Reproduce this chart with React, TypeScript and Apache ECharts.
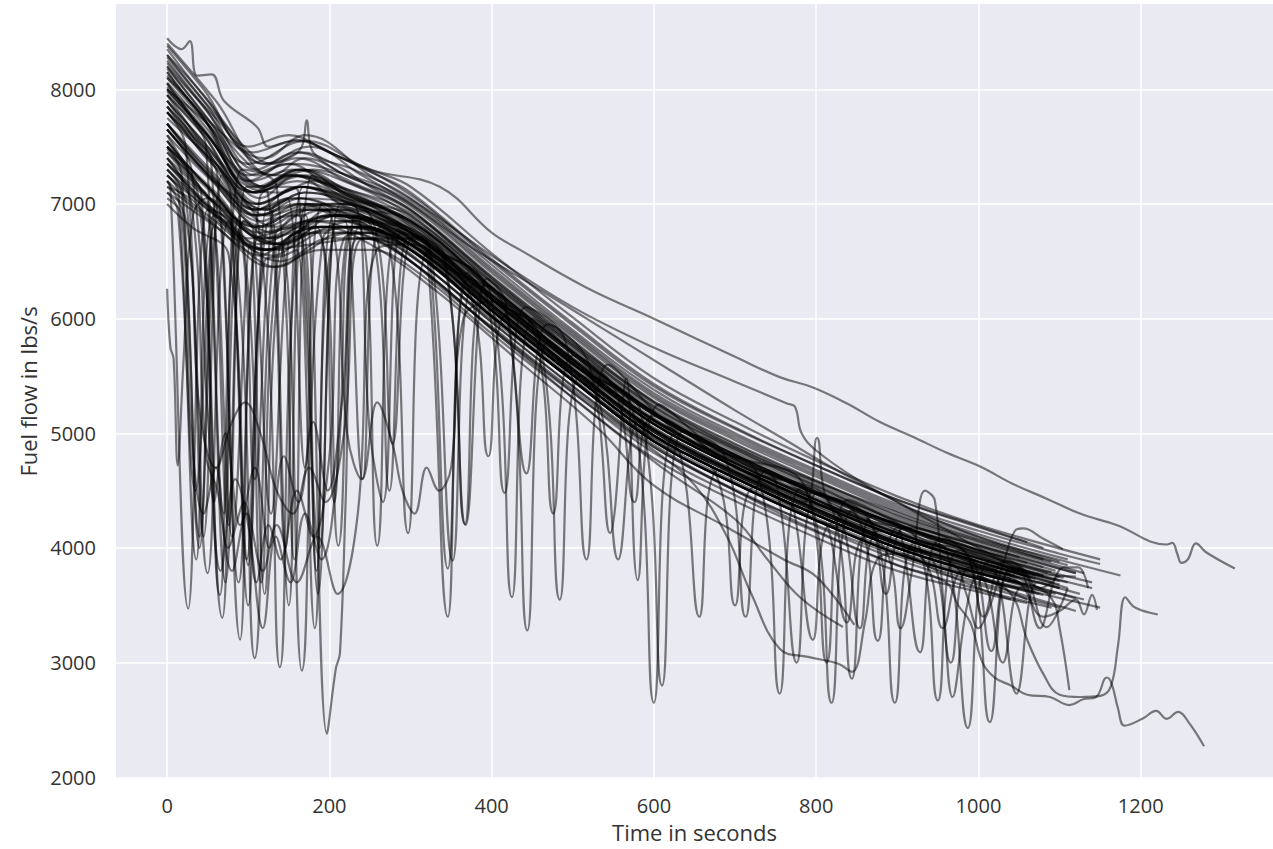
import React, { useEffect, useRef } from "react";
import * as echarts from "echarts";

type P = [number, number][];

const xTicks = [0, 200, 400, 600, 800, 1000, 1200];
const yTicks = [2000, 3000, 4000, 5000, 6000, 7000, 8000];

// upper band flights
const f01: P = [[0,8445],[18,8350],[28,8420],[37,8120],[55,8130],[70,7900],[111,7670],[125,7500],[160,7560],[200,7450],[260,7250],[300,7100],[400,6520],[500,5960],[600,5430],[700,5050],[800,4720],[900,4420],[1000,4180],[1060,4050]];
const f02: P = [[0,8400],[60,7900],[120,7350],[150,7400],[166,7500],[172,7730],[180,7450],[230,7300],[300,7050],[400,6470],[500,5900],[600,5380],[700,5000],[800,4680],[900,4380],[1000,4150],[1100,3950],[1150,3860]];
const f03: P = [[0,8300],[50,7850],[110,7300],[160,7450],[220,7250],[300,7000],[400,6420],[500,5860],[600,5330],[700,4960],[800,4640],[900,4340],[1000,4100],[1100,3880]];
const f04: P = [[0,8250],[40,7900],[100,7350],[140,7250],[180,7300],[240,7150],[300,6950],[400,6370],[500,5810],[600,5280],[700,4910],[800,4590],[900,4290],[1000,4060],[1090,3880]];
const f05: P = [[0,8200],[60,7650],[120,7150],[160,7300],[200,7250],[300,6900],[400,6320],[500,5760],[600,5230],[700,4860],[800,4540],[900,4240],[1000,4020],[1050,3920]];
const f06: P = [[0,8150],[50,7700],[100,7250],[150,7350],[200,7150],[300,6850],[400,6270],[500,5710],[600,5180],[700,4810],[800,4490],[900,4200],[1000,3980],[1030,3920]];
const f07: P = [[0,8100],[40,7800],[110,7100],[170,7250],[230,7050],[300,6800],[400,6220],[500,5660],[600,5130],[700,4760],[800,4440],[900,4150],[1000,3930],[1080,3760]];
const f08: P = [[0,8050],[60,7500],[115,7050],[160,7250],[220,7050],[300,6750],[400,6170],[500,5610],[600,5080],[700,4710],[800,4390],[900,4100],[1000,3880],[1070,3730]];
const f09: P = [[0,8000],[50,7600],[100,7200],[150,7350],[200,7300],[300,7020],[400,6440],[500,5880],[600,5350],[700,4980],[800,4660],[900,4360],[1000,4120],[1110,3900]];
const f10: P = [[0,7950],[40,7650],[105,7100],[150,7250],[210,7150],[300,6920],[400,6340],[500,5780],[600,5250],[700,4880],[800,4560],[900,4260],[1000,4030],[1120,3780]];
const f11: P = [[0,7900],[50,7500],[110,7000],[170,7150],[230,7000],[300,6780],[400,6200],[500,5640],[600,5110],[700,4740],[800,4420],[900,4130],[1000,3910],[1140,3650]];
const f12: P = [[0,7850],[60,7400],[120,6950],[170,7100],[240,6950],[300,6700],[400,6120],[500,5560],[600,5030],[700,4660],[800,4340],[900,4050],[1000,3840],[1100,3650]];
const f13: P = [[0,7800],[50,7450],[110,6950],[160,7150],[220,7050],[300,6860],[400,6280],[500,5720],[600,5190],[700,4820],[800,4500],[900,4210],[1000,3990],[1060,3870]];
const f14: P = [[0,7750],[60,7350],[125,6900],[180,7000],[240,6900],[300,6650],[400,6070],[500,5510],[600,4980],[700,4610],[800,4290],[900,4000],[1000,3790],[1130,3550]];
const f15: P = [[0,8350],[50,7900],[100,7500],[150,7600],[200,7450],[250,7300],[300,7150],[400,6570],[500,6010],[600,5480],[700,5100],[800,4760],[900,4450],[1000,4200],[1150,3900]];
const f16: P = [[0,8280],[70,7700],[130,7250],[170,7400],[220,7250],[300,6980],[400,6400],[500,5840],[600,5310],[700,4940],[800,4620],[900,4320],[1000,4080],[1070,3950],[1175,3760]];
const f17: P = [[0,8120],[45,7750],[105,7200],[155,7300],[215,7150],[300,6880],[400,6300],[500,5740],[600,5210],[700,4840],[800,4520],[900,4230],[1000,4010],[1095,3800]];
const f18: P = [[0,7980],[55,7550],[115,7000],[165,7150],[225,7000],[300,6720],[400,6140],[500,5580],[600,5050],[700,4680],[800,4360],[900,4070],[1000,3850],[1125,3600]];
const f19: P = [[0,8380],[45,8000],[105,7450],[160,7550],[215,7400],[300,7080],[400,6500],[500,5940],[600,5410],[700,5040],[800,4720],[900,4420],[1000,4190],[1080,4000]];
const f20: P = [[0,8180],[55,7700],[110,7150],[165,7300],[225,7100],[300,6830],[400,6250],[500,5690],[600,5160],[700,4790],[800,4470],[900,4180],[1000,3960],[1100,3750]];
const f21: P = [[0,7700],[50,7300],[115,6900],[165,7050],[225,6900],[300,6680],[400,6100],[500,5540],[600,5010],[700,4640],[800,4320],[900,4030],[1000,3810],[1040,3730]];
const f22: P = [[0,8230],[50,7800],[110,7250],[160,7400],[220,7200],[300,6940],[400,6360],[500,5800],[600,5270],[700,4900],[800,4580],[900,4280],[1000,4050],[1130,3780]];
const f23: P = [[0,8060],[50,7650],[110,7100],[160,7200],[220,7050],[300,6770],[400,6190],[500,5630],[600,5100],[700,4730],[800,4410],[900,4120],[1000,3900],[1060,3780]];
const f24: P = [[0,7600],[55,7200],[120,6800],[175,6950],[235,6850],[300,6600],[400,6020],[500,5460],[600,4930],[700,4560],[800,4240],[900,3950],[1000,3740],[1150,3480]];

// band flights with small wiggles
const r01: P = [[0,8020],[40,7700],[80,7350],[120,7150],[150,7250],[185,7200],[230,7050],[270,6950],[320,6700],[370,6420],[420,6120],[470,5850],[520,5580],[570,5320],[620,5080],[670,4900],[720,4700],[770,4560],[820,4420],[870,4280],[920,4150],[970,4020],[1020,3900],[1085,3780]];
const r02: P = [[0,7480],[40,7150],[90,6800],[130,6650],[170,6800],[210,6900],[250,6800],[290,6620],[340,6330],[390,6050],[440,5780],[490,5520],[540,5250],[590,5000],[640,4820],[690,4640],[740,4480],[790,4330],[840,4200],[890,4050],[940,3930],[990,3820],[1040,3700],[1095,3600]];
const r03: P = [[0,7900],[50,7500],[100,7150],[140,7100],[180,7200],[220,7100],[260,6950],[310,6720],[360,6450],[410,6150],[460,5870],[510,5600],[560,5350],[610,5120],[660,4920],[710,4740],[760,4600],[810,4450],[860,4310],[910,4180],[960,4050],[1010,3930],[1070,3820],[1140,3700]];
const r04: P = [[0,7650],[45,7300],[95,6950],[135,6800],[175,6950],[215,6950],[255,6850],[300,6650],[350,6350],[400,6080],[450,5800],[500,5530],[550,5280],[600,5040],[650,4850],[700,4670],[750,4520],[800,4370],[850,4230],[900,4100],[950,3980],[1000,3870],[1065,3740]];
const r05: P = [[0,8300],[45,7950],[95,7500],[130,7350],[165,7450],[205,7350],[250,7150],[300,6950],[350,6650],[400,6350],[450,6060],[500,5780],[550,5520],[600,5270],[650,5060],[700,4880],[750,4720],[800,4580],[850,4440],[900,4310],[950,4180],[1000,4070],[1080,3900]];
const r06: P = [[0,7150],[45,6900],[95,6600],[135,6450],[175,6600],[215,6750],[255,6700],[300,6500],[350,6200],[400,5930],[450,5650],[500,5380],[550,5120],[600,4880],[650,4680],[700,4500],[750,4340],[800,4200],[850,4060],[900,3930],[950,3810],[1000,3700],[1050,3600],[1120,3450]];

// lower-start band flights
const g01: P = [[0,7500],[50,7150],[120,6700],[170,6850],[220,6900],[300,6700],[400,6120],[500,5560],[600,5030],[700,4660],[800,4340],[900,4050],[1000,3830],[1050,3740]];
const g02: P = [[0,7400],[60,7000],[125,6600],[180,6750],[230,6850],[300,6650],[400,6070],[500,5510],[600,4980],[700,4610],[800,4290],[900,4000],[1000,3780],[1060,3680]];
const g03: P = [[0,7300],[50,6950],[130,6550],[190,6800],[240,6800],[300,6600],[400,6020],[500,5460],[600,4930],[700,4560],[800,4240],[900,3950],[1000,3730],[1080,3590]];
const g04: P = [[0,7250],[60,6900],[140,6500],[200,6700],[250,6700],[300,6550],[400,5970],[500,5410],[600,4880],[700,4510],[800,4190],[900,3900],[1000,3680],[1100,3480]];
const g05: P = [[0,7200],[50,6900],[120,6600],[180,6650],[240,6700],[300,6500],[400,5920],[500,5360],[600,4830],[700,4460],[800,4140],[900,3850],[1000,3640],[1090,3480]];
const g06: P = [[0,7100],[60,6800],[130,6450],[190,6600],[250,6600],[300,6450],[400,5870],[500,5310],[600,4780],[700,4410],[800,4090],[900,3800],[1010,3600],[1060,3520]];
const g07: P = [[0,7450],[40,7200],[110,6800],[160,6950],[210,7000],[300,6750],[400,6170],[500,5610],[600,5080],[700,4710],[800,4390],[900,4100],[1000,3880],[1110,3650]];
const g08: P = [[0,7350],[70,6950],[140,6650],[200,6950],[250,6850],[300,6620],[400,6040],[500,5480],[600,4950],[700,4580],[800,4260],[900,3970],[1000,3750],[1070,3620]];

// flights running below the band later on
const h01: P = [[0,7500],[60,7100],[120,6700],[190,6800],[250,6650],[330,6250],[430,5650],[530,5050],[599,4550],[690,4180],[760,3900],[800,3750],[847,3330]];
const h02: P = [[0,7800],[50,7400],[110,6950],[160,7050],[230,6850],[310,6450],[410,5850],[510,5250],[610,4700],[700,4250],[740,3900],[780,3570],[833,3310]];

// flights with sharp dips
const d01: P = [[0,6260],[4,5750],[8,5650],[13,4720],[20,5600],[32,6900],[50,7050],[90,6800],[130,6650],[200,6900],[260,6850],[300,6750],[326,6550],[352,3890],[378,6300],[420,6100],[500,5640],[600,5110],[700,4740],[800,4420],[900,4130],[1000,3910],[1050,3800]];
const d02: P = [[0,7200],[4,7150],[26,3470],[50,6950],[70,6900],[100,6700],[150,6800],[200,6900],[250,6850],[300,6750],[400,6170],[458,5850],[484,3550],[510,5500],[600,5080],[700,4710],[785,4400],[801,4960],[817,4370],[900,4100],[1000,3880],[1060,3750]];
const d03: P = [[0,7600],[30,7250],[42,7100],[68,3390],[94,6850],[130,6750],[160,6900],[171,6900],[197,2380],[208,2950],[213,3080],[220,4400],[232,6900],[270,6850],[300,6780],[400,6200],[500,5640],[600,5110],[687,4800],[713,3400],[739,4680],[800,4420],[900,4130],[1000,3910],[1090,3720]];
const d04: P = [[0,7400],[40,7050],[82,6750],[108,3040],[134,6750],[160,6800],[200,6900],[250,6850],[300,6720],[320,6600],[346,3400],[372,6350],[420,6050],[500,5600],[574,5200],[600,2650],[626,5000],[700,4700],[800,4380],[871,4180],[897,2650],[923,4050],[1000,3850],[1070,3700]];
const d05: P = [[0,7700],[50,7250],[113,6800],[139,2960],[165,6850],[210,6950],[280,6850],[341,6500],[367,4210],[393,6300],[460,5850],[560,5300],[650,4920],[729,4620],[755,2730],[781,4520],[860,4250],[924,4070],[950,2670],[976,3980],[1050,3800]];
const d06: P = [[0,7350],[60,6900],[115,6550],[140,6650],[166,2930],[192,6700],[230,6800],[271,6720],[297,4130],[323,6600],[400,6150],[510,5550],[584,5180],[610,2800],[636,5020],[700,4700],[793,4420],[819,2650],[845,4330],[930,4050],[961,3970],[987,2430],[1013,3880],[1060,3750]];
const d07: P = [[0,7900],[40,7500],[62,7250],[88,3700],[114,7050],[150,7150],[162,7100],[188,4000],[214,7000],[250,6950],[320,6650],[399,6200],[425,3570],[451,6000],[540,5450],[640,5000],[740,4650],[818,4380],[844,2860],[870,4280],[940,4050],[988,3920],[1014,2480],[1040,3830],[1080,3750]];
const d08: P = [[0,7250],[24,7000],[50,3780],[76,6850],[100,6650],[140,6600],[185,6750],[211,4020],[237,6800],[270,6750],[330,6500],[418,6050],[444,3280],[470,5800],[560,5300],[660,4880],[760,4550],[850,4280],[876,3190],[902,4180],[1000,3850],[1021,3800],[1047,2730],[1073,3700],[1100,3650]];
const d09: P = [[0,7500],[39,7050],[65,3590],[91,6900],[130,6700],[180,6850],[233,6850],[259,4020],[285,6780],[330,6600],[390,6300],[416,4480],[442,6100],[491,5800],[517,3900],[543,5600],[630,5000],[720,4700],[750,4580],[776,3000],[802,4480],[880,4250],[902,4180],[928,3090],[954,4080],[1040,3850],[1058,3780],[1084,3310],[1110,3650]];
const d10: P = [[0,7650],[60,7200],[110,6950],[150,7050],[252,6880],[278,4910],[304,6720],[342,6550],[368,4200],[394,6350],[417,6150],[443,4650],[469,5950],[520,5600],[546,4130],[566,5480],[580,3720],[606,5250],[680,4850],[787,4520],[813,3000],[839,4420],[920,4150],[1030,3850],[1110,3700]];

// flights with heavy early oscillation
const e01: P = [[0,7300],[18,7100],[40,4100],[62,6850],[68,6800],[90,3200],[112,6700],[140,6650],[210,6900],[300,6700],[400,6120],[500,5560],[600,5030],[700,4660],[800,4340],[900,4050],[1000,3830],[1045,3760]];
const e02: P = [[0,7100],[13,6950],[35,4500],[57,6800],[80,4100],[102,6650],[120,3600],[142,6600],[200,6800],[300,6650],[400,6070],[500,5510],[600,4980],[700,4610],[800,4290],[900,4000],[1000,3780],[1050,3700]];
const e03: P = [[0,7800],[23,7500],[45,4100],[67,7250],[78,7100],[100,3850],[122,6950],[128,6950],[150,3500],[172,7000],[240,6950],[300,6850],[400,6270],[500,5710],[600,5180],[700,4810],[800,4490],[900,4200],[1000,3980],[1080,3830]];
const e04: P = [[0,7050],[18,6900],[30,5000],[45,4300],[60,4700],[75,4000],[95,4400],[110,3700],[125,4200],[140,3900],[160,4500],[180,4100],[200,4800],[218,6700],[260,6750],[300,6650],[400,6070],[500,5510],[600,4980],[700,4610],[800,4290],[900,4000],[1000,3780],[1030,3730]];
const e05: P = [[0,7200],[25,6800],[40,5200],[60,4700],[80,5100],[96,5270],[115,5000],[135,4500],[155,4300],[175,4700],[195,4400],[218,5000],[242,6700],[300,6700],[400,6120],[500,5560],[600,5030],[700,4660],[800,4340],[900,4050],[1000,3830],[1040,3770]];
const e06: P = [[0,7400],[30,7000],[48,4800],[62,4500],[80,3800],[98,4300],[118,3800],[135,4200],[160,3700],[185,4100],[210,3600],[235,4300],[258,6600],[300,6650],[400,6070],[500,5510],[600,4980],[700,4610],[800,4290],[900,4000],[1000,3780],[1060,3680]];
const e07: P = [[0,7700],[60,7250],[110,6900],[170,7000],[202,6900],[222,5000],[240,4600],[259,5270],[278,4900],[290,4500],[305,4300],[320,4700],[335,4500],[350,4700],[365,6000],[400,6150],[500,5600],[600,5080],[700,4710],[800,4390],[900,4100],[1000,3880],[1070,3760]];
const e08: P = [[0,7550],[40,7150],[50,7050],[72,3700],[94,6850],[106,6780],[128,4300],[150,6700],[164,6750],[186,3600],[208,6850],[219,6850],[241,4600],[263,6800],[300,6700],[400,6170],[500,5610],[600,5080],[700,4710],[800,4390],[900,4100],[1000,3880],[1100,3680]];
const e09: P = [[0,7000],[30,6800],[76,6550],[98,3900],[120,6500],[144,6550],[160,6600],[182,3300],[204,6700],[240,6750],[300,6600],[400,6020],[500,5460],[600,4930],[700,4560],[800,4240],[900,3950],[1000,3730],[1020,3700]];
const e10: P = [[0,8050],[35,7700],[48,7500],[70,4300],[92,7300],[135,7150],[157,3900],[179,7250],[260,7000],[300,6900],[400,6320],[500,5760],[600,5230],[700,4860],[800,4540],[900,4240],[1000,4020],[1120,3780]];
const e11: P = [[0,7250],[14,7100],[36,3900],[58,6900],[94,6650],[116,3700],[138,6600],[184,6800],[206,4400],[228,6800],[300,6600],[400,6020],[500,5460],[600,4930],[700,4560],[800,4240],[900,3950],[1000,3730],[1075,3600]];
const e12: P = [[0,7950],[40,7550],[54,7400],[76,4200],[98,7150],[124,7100],[146,4000],[168,7150],[230,7050],[300,6830],[400,6250],[500,5690],[600,5160],[700,4790],[800,4470],[900,4180],[1000,3960],[1090,3790]];
const e13: P = [[0,7150],[44,6900],[58,4400],[72,5000],[90,4200],[108,4700],[126,4000],[144,4800],[162,4400],[180,5100],[198,4500],[216,5300],[236,6700],[300,6600],[400,6020],[500,5460],[600,4930],[700,4560],[800,4240],[900,3950],[1000,3730],[1050,3650]];
const e14: P = [[0,7500],[18,7250],[40,4000],[62,7050],[78,6900],[100,3500],[122,6800],[162,6900],[184,3800],[206,6900],[252,6800],[274,4500],[296,6700],[320,6550],[400,6100],[500,5540],[600,5010],[700,4640],[800,4320],[900,4030],[1000,3810],[1120,3560]];
const e15: P = [[0,7650],[30,7300],[50,5200],[66,3800],[84,4600],[100,4200],[118,3300],[134,4100],[152,3700],[170,4300],[190,3900],[210,4700],[232,6800],[300,6650],[400,6070],[500,5510],[600,4980],[700,4610],[800,4290],[900,4000],[1000,3780],[1065,3660]];
const e16: P = [[0,7850],[42,7450],[86,7050],[108,4600],[130,6950],[148,7050],[170,4700],[192,7000],[228,7000],[250,5000],[266,4400],[288,6750],[310,6700],[400,6200],[500,5640],[600,5110],[700,4740],[800,4420],[900,4130],[1000,3910],[1100,3710]];

// flights with dips in the middle and late parts
const m01: P = [[0,7800],[60,7350],[120,6950],[170,7100],[230,7000],[300,6750],[322,6650],[346,3820],[370,6400],[400,6170],[452,5900],[476,4300],[500,5680],[552,5380],[576,4400],[600,5150],[700,4710],[800,4390],[830,4280],[854,3300],[878,4150],[960,3950],[992,3900],[1016,3100],[1040,3800],[1090,3700]];
const m02: P = [[0,7550],[50,7150],[110,6800],[170,6950],[230,6900],[300,6650],[372,6250],[396,4800],[420,6050],[500,5510],[532,5300],[556,3900],[580,5100],[600,4980],[632,4830],[656,3400],[680,4680],[760,4400],[772,4350],[796,3200],[820,4220],[900,4000],[942,3920],[966,3000],[990,3830],[1050,3700]];
const n01: P = [[0,7300],[55,6950],[120,6600],[180,6750],[240,6800],[300,6600],[400,6020],[500,5460],[600,4930],[676,4650],[700,3500],[724,4530],[800,4240],[814,4200],[838,3350],[862,4100],[932,3900],[956,3300],[980,3800],[1006,3740],[1030,3000],[1054,3660],[1090,3600]];
const n02: P = [[0,8000],[50,7600],[110,7100],[160,7250],[220,7100],[300,6850],[400,6270],[500,5710],[600,5180],[700,4810],[790,4500],[862,4280],[886,3600],[910,4180],[982,3970],[1006,3400],[1030,3880],[1052,3820],[1076,3300],[1098,3750],[1105,3740]];

// long / outlying flights
const l01: P = [[0,8000],[50,7700],[100,7350],[170,7550],[250,7300],[336,7150],[400,6750],[435,6600],[517,6270],[600,6000],[702,5660],[755,5490],[796,5400],[838,5260],[878,5100],[919,4970],[961,4830],[1002,4710],[1042,4560],[1084,4430],[1125,4300],[1170,4200],[1232,4030],[1239,4045],[1245,3950],[1250,3870],[1258,3900],[1268,4040],[1281,3960],[1316,3820]];
const l02: P = [[0,8150],[55,7700],[120,7400],[170,7600],[250,7250],[320,6950],[400,6550],[500,6100],[599,5750],[700,5450],[764,5260],[774,5230],[782,5000],[800,4850],[850,4600],[900,4400],[950,4200],[1000,4000],[1060,3800],[1120,3750]];
const l03: P = [[0,8200],[60,7750],[120,7350],[175,7500],[240,7250],[300,7000],[380,6600],[460,6250],[540,5900],[620,5550],[700,5200],[760,4950],[820,4700],[900,4400],[980,4150],[1060,3950],[1110,3850]];
const a01: P = [[0,7350],[50,7000],[120,6600],[180,6750],[240,6750],[300,6550],[400,5970],[500,5410],[600,4900],[700,4500],[800,4150],[900,3850],[960,3700],[975,3500],[990,3350],[1005,3000],[1020,2870],[1040,2800],[1060,2720],[1088,2700],[1112,2630],[1129,2680],[1145,2700],[1158,2870],[1164,2820],[1172,2600],[1180,2450],[1202,2510],[1219,2580],[1232,2510],[1246,2570],[1260,2470],[1278,2270]];
const b01: P = [[0,7700],[55,7250],[115,6850],[165,7000],[225,6850],[300,6650],[400,6070],[500,5510],[600,4980],[700,4610],[800,4290],[900,4000],[1000,3750],[1040,3600],[1060,3200],[1080,2900],[1100,2720],[1125,2700],[1150,2710],[1163,2790],[1172,3150],[1181,3570],[1193,3480],[1221,3420]];
const c01: P = [[0,7950],[45,7600],[105,7100],[155,7250],[215,7000],[300,6750],[400,6170],[500,5610],[600,5080],[700,4710],[800,4390],[900,4100],[990,3880],[1060,3700],[1090,3560],[1100,3300],[1112,2760]];
const k01: P = [[0,7550],[50,7150],[115,6750],[175,6850],[235,6750],[310,6450],[410,5850],[510,5300],[600,4850],[650,4550],[690,4100],[720,3600],[755,3120],[790,3050],[827,2990],[844,2920],[860,3350],[875,3900],[900,3950],[950,3800],[1000,3650],[1040,3550]];
const p01: P = [[0,7650],[50,7250],[110,6900],[160,7000],[220,6850],[300,6680],[400,6100],[500,5540],[600,5010],[700,4640],[800,4320],[900,4030],[970,3850],[985,3600],[1000,3300],[1012,3450],[1030,3850],[1045,4150],[1055,4170],[1080,4080],[1104,3990]];
const p02: P = [[0,7450],[45,7100],[115,6650],[170,6800],[230,6800],[300,6600],[400,6020],[500,5460],[600,4930],[700,4560],[800,4240],[882,4020],[904,3300],[918,3800],[934,4500],[946,4420],[956,3600],[968,2700],[986,3500],[1000,3750],[1030,3650],[1060,3550]];
const q01: P = [[0,7850],[50,7450],[110,7000],[165,7150],[225,6950],[300,6700],[400,6120],[500,5560],[600,5030],[700,4660],[800,4340],[900,4050],[1000,3830],[1050,3700],[1080,3400],[1100,3450],[1120,3550],[1130,3420],[1140,3590],[1146,3460]];
const q02: P = [[0,8100],[55,7650],[115,7150],[165,7300],[225,7050],[300,6850],[400,6270],[500,5710],[600,5180],[700,4810],[800,4490],[900,4200],[1000,3980],[1050,3850],[1075,3650],[1090,3700],[1105,3830],[1123,3830],[1135,3650]];

const flights: P[] = [
  f01, f02, f03, f04, f05, f06, f07, f08, f09, f10, f11, f12,
  f13, f14, f15, f16, f17, f18, f19, f20, f21, f22, f23, f24,
  r01, r02, r03, r04, r05, r06,
  g01, g02, g03, g04, g05, g06, g07, g08, h01, h02,
  d01, d02, d03, d04, d05, d06, d07, d08, d09, d10,
  e01, e02, e03, e04, e05, e06, e07, e08, e09, e10,
  e11, e12, e13, e14, e15, e16, m01, m02, n01, n02,
  l01, l02, l03, a01, b01, c01, k01, p01, p02, q01, q02,
];

const FONT = "'Open Sans', 'Noto Sans', sans-serif";
const TEXT = "#333333";

export default function App() {
  const ref = useRef<HTMLDivElement>(null);
  useEffect(() => {
    if (!ref.current) return;
    const chart = echarts.init(ref.current, null, { renderer: "svg" });
    chart.setOption({
      animation: false,
      backgroundColor: "#ffffff",
      grid: {
        left: 116,
        right: 0,
        top: 4,
        bottom: 70,
        show: true,
        backgroundColor: "#EAEAF2",
        borderWidth: 0,
      },
      xAxis: {
        type: "value",
        min: -63,
        max: 1363,
        name: "Time in seconds",
        nameLocation: "middle",
        nameGap: 42,
        nameTextStyle: { fontFamily: FONT, fontSize: 22, color: TEXT },
        axisLine: { show: false },
        axisTick: { show: false, customValues: xTicks },
        axisLabel: {
          customValues: xTicks,
          formatter: (v: number) => String(v),
          fontFamily: FONT,
          fontSize: 20,
          color: TEXT,
          margin: 16,
        },
        splitLine: { show: true, lineStyle: { color: "#ffffff", width: 1.5 } },
      },
      yAxis: {
        type: "value",
        min: 1985,
        max: 8744,
        name: "Fuel flow in lbs/s",
        nameLocation: "middle",
        nameGap: 70,
        nameTextStyle: { fontFamily: FONT, fontSize: 22, color: TEXT },
        axisLine: { show: false },
        axisTick: { show: false, customValues: yTicks },
        axisLabel: {
          customValues: yTicks,
          formatter: (v: number) => String(v),
          fontFamily: FONT,
          fontSize: 20,
          color: TEXT,
          margin: 20,
        },
        splitLine: { show: true, lineStyle: { color: "#ffffff", width: 1.5 } },
      },
      series: flights.map((d, i) => ({
        type: "line",
        name: "flight" + (i + 1),
        data: d,
        showSymbol: false,
        symbol: "none",
        smooth: 0.4,
        silent: true,
        lineStyle: { color: "rgba(0,0,0,0.5)", width: 2.2 },
      })),
    });
    return () => chart.dispose();
  }, []);
  return (
    <div
      ref={ref}
      style={{ position: "fixed", left: 0, top: 0, width: 1273, height: 849 }}
    />
  );
}
